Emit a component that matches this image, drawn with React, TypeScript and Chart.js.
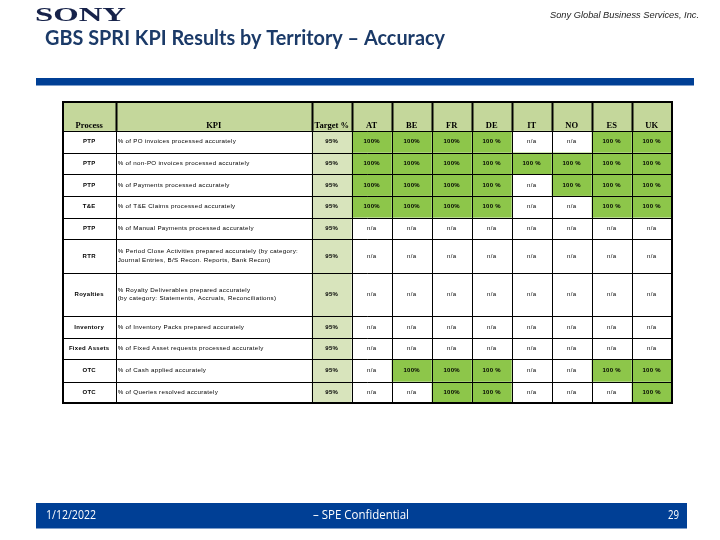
import React, { useEffect, useRef } from "react";
import { Chart, registerables } from "chart.js";
Chart.register(...registerables);

// ---------- data ----------
const processes = ["PTP", "PTP", "PTP", "T&E", "PTP", "RTR", "Royalties", "Inventory", "Fixed Assets", "OTC", "OTC"];
const kpis: string[][] = [
  ["% of PO invoices processed accurately"],
  ["% of non-PO invoices processed accurately"],
  ["% of Payments processed accurately"],
  ["% of T&E Claims processed accurately"],
  ["% of Manual Payments processed accurately"],
  ["% Period Close Activities prepared accurately (by category:", "Journal Entries, B/S Recon. Reports, Bank Recon)"],
  ["% Royalty Deliverables prepared accurately", "(by category: Statements, Accruals, Reconciliations)"],
  ["% of Inventory Packs prepared accurately"],
  ["% of Fixed Asset requests processed accurately"],
  ["% of Cash applied accurately"],
  ["% of Queries resolved accurately"],
];
const targets = [95, 95, 95, 95, 95, 95, 95, 95, 95, 95, 95];
const territories = ["AT", "BE", "FR", "DE", "IT", "NO", "ES", "UK"];
const AT = [100, 100, 100, 100, null, null, null, null, null, null, null];
const BE = [100, 100, 100, 100, null, null, null, null, null, 100, null];
const FR = [100, 100, 100, 100, null, null, null, null, null, 100, 100];
const DE = [100, 100, 100, 100, null, null, null, null, null, 100, 100];
const IT = [null, 100, null, null, null, null, null, null, null, null, null];
const NO = [null, 100, 100, null, null, null, null, null, null, null, null];
const ES = [100, 100, 100, 100, null, null, null, null, null, 100, null];
const UK = [100, 100, 100, 100, null, null, null, null, null, 100, 100];
const values: (number | null)[][] = [AT, BE, FR, DE, IT, NO, ES, UK];
const headers = ["Process", "KPI", "Target %", ...territories];

const titleText = "GBS SPRI KPI Results by Territory \u2013 Accuracy";
const companyText = "Sony Global Business Services, Inc.";
const footerDate = "1/12/2022";
const footerMid = "\u2013 SPE Confidential";
const footerPage = "29";

// ---------- layout (sizes only) ----------
const colWidths = [53, 196, 40, 40, 40, 40, 40, 40, 40, 40, 40];
const rowHeights = [28.5, 21.7, 21.7, 21.6, 21.7, 21.7, 33.4, 43.3, 21.7, 21.6, 22.4, 21.6];
const pctSep = ["", "", "", " ", " ", " ", " ", " "];

const C_HEADER = "#c4d79b";
const C_TARGET = "#d8e4bc";
const C_GREEN = "#8dc64a";
const C_BLUE = "#003f95";
const C_TITLE = "#1b3a68";

function cum(a: number[]) {
  const r = [0];
  a.forEach((v) => r.push(r[r.length - 1] + v));
  return r;
}

function fitText(ctx: CanvasRenderingContext2D, text: string, x: number, y: number, width: number, align: string) {
  const w = ctx.measureText(text).width;
  const s = width / w;
  ctx.save();
  ctx.translate(x, y);
  ctx.scale(s, 1);
  ctx.textAlign = "left";
  ctx.fillText(text, align === "right" ? -w : align === "center" ? -w / 2 : 0, 0);
  ctx.restore();
}

const tablePlugin = {
  id: "tablePlugin",
  afterDraw(chart: any) {
    const ctx: CanvasRenderingContext2D = chart.ctx;
    const xs = chart.scales.x;
    const ys = chart.scales.y;
    const xe = cum(colWidths).map((v) => xs.getPixelForValue(v));
    const ye = cum(rowHeights).map((v) => ys.getPixelForValue(v));
    const nR = rowHeights.length;
    const nC = colWidths.length;
    ctx.save();

    // ---- page decorations ----
    ctx.fillStyle = "#ffffff";
    // SONY logo
    ctx.fillStyle = "#16224a";
    ctx.textBaseline = "alphabetic";
    ctx.font = "bold 18px 'Liberation Serif'";
    fitText(ctx, "SONY", 35, 20.5, 91, "left");
    // company
    ctx.fillStyle = "#222222";
    ctx.font = "italic 8.5px 'Liberation Sans'";
    fitText(ctx, companyText, 699, 17.5, 149, "right");
    // title
    ctx.fillStyle = C_TITLE;
    ctx.font = "bold 20px Lato";
    fitText(ctx, titleText, 45, 45, 400, "left");
    // blue rule
    ctx.fillStyle = C_BLUE;
    ctx.fillRect(36, 78, 658, 7.5);
    // footer
    ctx.fillRect(36, 503, 651, 25.5);
    ctx.fillStyle = "#ffffff";
    ctx.font = "12px 'Open Sans'";
    fitText(ctx, footerDate, 46, 519, 50, "left");
    fitText(ctx, footerMid, 361, 519, 96, "center");
    fitText(ctx, footerPage, 679, 519, 11, "right");

    // ---- fills ----
    ctx.fillStyle = C_HEADER;
    ctx.fillRect(xe[0], ye[0], xe[nC] - xe[0], ye[1] - ye[0]);
    ctx.fillStyle = C_TARGET;
    ctx.fillRect(xe[2], ye[1], xe[3] - xe[2], ye[nR] - ye[1]);
    for (let c = 0; c < territories.length; c++) {
      for (let r = 0; r < processes.length; r++) {
        const v = values[c][r];
        if (v != null && v >= targets[r]) {
          ctx.fillStyle = C_GREEN;
          ctx.fillRect(xe[3 + c], ye[1 + r], xe[4 + c] - xe[3 + c], ye[2 + r] - ye[1 + r]);
        }
      }
    }

    // ---- grid ----
    ctx.strokeStyle = "#000000";
    ctx.lineWidth = 1;
    for (let r = 1; r < nR; r++) {
      const y = Math.round(ye[r]) + 0.5;
      ctx.beginPath();
      ctx.moveTo(xe[0], y);
      ctx.lineTo(xe[nC], y);
      ctx.stroke();
    }
    for (let c = 1; c < nC; c++) {
      const x = Math.round(xe[c]) + 0.5;
      ctx.lineWidth = 1;
      ctx.beginPath();
      ctx.moveTo(x, ye[1]);
      ctx.lineTo(x, ye[nR]);
      ctx.stroke();
      ctx.lineWidth = 2;
      ctx.beginPath();
      ctx.moveTo(x, ye[0]);
      ctx.lineTo(x, ye[1]);
      ctx.stroke();
    }
    ctx.lineWidth = 2;
    ctx.strokeRect(Math.round(xe[0]), Math.round(ye[0]), Math.round(xe[nC] - xe[0]), Math.round(ye[nR] - ye[0]));

    // ---- text ----
    ctx.fillStyle = "#000000";
    ctx.textBaseline = "alphabetic";
    ctx.textAlign = "center";
    ctx.font = "bold 8.5px 'Liberation Serif'";
    headers.forEach((h, i) => {
      ctx.fillText(h, (xe[i] + xe[i + 1]) / 2, ye[1] - 3);
    });

    (ctx as any).letterSpacing = "0.3px";
    ctx.textBaseline = "middle";
    for (let r = 0; r < processes.length; r++) {
      const yc = (ye[1 + r] + ye[2 + r]) / 2;
      ctx.textAlign = "center";
      ctx.font = "bold 6px 'Liberation Sans'";
      ctx.fillText(processes[r], (xe[0] + xe[1]) / 2, yc);
      ctx.textAlign = "left";
      ctx.font = "6.2px 'Liberation Sans'";
      const lines = kpis[r];
      const lh = 8.5;
      lines.forEach((ln, k) => {
        ctx.fillText(ln, xe[1] + 2, yc + (k - (lines.length - 1) / 2) * lh);
      });
      ctx.textAlign = "center";
      ctx.font = "bold 6px 'Liberation Sans'";
      ctx.fillText(targets[r] + "%", (xe[2] + xe[3]) / 2, yc);
      for (let c = 0; c < territories.length; c++) {
        const v = values[c][r];
        const xc = (xe[3 + c] + xe[4 + c]) / 2;
        if (v == null) {
          ctx.font = "6px 'Liberation Sans'";
          ctx.fillText("n/a", xc, yc);
        } else {
          ctx.font = "bold 6px 'Liberation Sans'";
          ctx.fillText(v + pctSep[c] + "%", xc, yc);
        }
      }
    }
    (ctx as any).letterSpacing = "0px";
    ctx.restore();
  },
};

export default function App() {
  const ref = useRef<HTMLCanvasElement | null>(null);
  useEffect(() => {
    if (!ref.current) return;
    const totalW = colWidths.reduce((a, b) => a + b, 0);
    const totalH = rowHeights.reduce((a, b) => a + b, 0);
    const left = 62.7;
    const top = 102.4;
    const chart = new Chart(ref.current, {
      type: "scatter",
      data: { datasets: [{ data: [], pointRadius: 0 }] },
      options: {
        animation: false,
        responsive: false,
        devicePixelRatio: 1,
        layout: { padding: { left, top, right: 720 - left - totalW, bottom: 540 - top - totalH } },
        plugins: { legend: { display: false }, tooltip: { enabled: false }, title: { display: false } },
        scales: {
          x: { type: "linear", min: 0, max: totalW, display: false },
          y: { type: "linear", min: 0, max: totalH, reverse: true, display: false },
        },
      },
      plugins: [tablePlugin],
    });
    return () => chart.destroy();
  }, []);
  return (
    <div style={{ position: "absolute", left: 0, top: 0, width: 720, height: 540, background: "#fff" }}>
      <canvas ref={ref} width={720} height={540} style={{ display: "block", width: 720, height: 540 }} />
    </div>
  );
}
